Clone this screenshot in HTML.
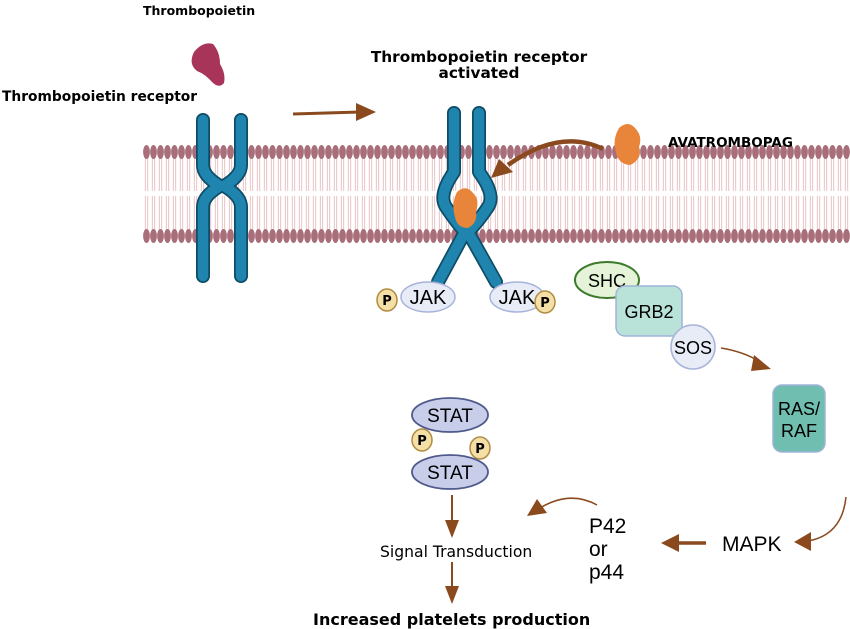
<!DOCTYPE html>
<html><head><meta charset="utf-8"><style>
html,body{margin:0;padding:0;background:#fff;width:850px;height:629px;overflow:hidden}
svg{display:block}
text{font-family:"Liberation Sans",sans-serif}
.b{font-family:"DejaVu Sans","Liberation Sans",sans-serif;font-weight:bold}
</style></head><body>
<svg width="850" height="629" viewBox="0 0 850 629" xmlns="http://www.w3.org/2000/svg">
<defs>
<pattern id="heads" width="7" height="16" patternUnits="userSpaceOnUse" x="143" y="144">
<ellipse cx="3.5" cy="8" rx="3.4" ry="7" fill="#a86e79"/>
</pattern>
<pattern id="heads2" width="7" height="16" patternUnits="userSpaceOnUse" x="143" y="228">
<ellipse cx="3.5" cy="8" rx="3.4" ry="7" fill="#a86e79"/>
</pattern>
<pattern id="tails" width="7" height="40" patternUnits="userSpaceOnUse" x="143">
<line x1="2.3" y1="0" x2="2.3" y2="40" stroke="#e4bcc1" stroke-width="0.9"/>
<line x1="4.7" y1="0" x2="4.7" y2="40" stroke="#e4bcc1" stroke-width="0.9"/>
</pattern>
</defs>

<rect x="143" y="158" width="707" height="33" fill="url(#tails)"/>
<rect x="143" y="196" width="707" height="34" fill="url(#tails)"/>
<rect x="143" y="144" width="707" height="16" fill="url(#heads)"/>
<rect x="143" y="228" width="707" height="16" fill="url(#heads2)"/>

<g fill="none" stroke-linecap="round" stroke-linejoin="round">
<path d="M203,120 L203,165 Q203,176 220,186 Q203,196 203,207 L203,276" stroke="#0f4d66" stroke-width="14"/>
<path d="M241,120 L241,165 Q241,176 224,186 Q241,196 241,207 L241,276" stroke="#0f4d66" stroke-width="14"/>
<path d="M203,120 L203,165 Q203,176 220,186 Q203,196 203,207 L203,276" stroke="#1f84ae" stroke-width="10.5"/>
<path d="M241,120 L241,165 Q241,176 224,186 Q241,196 241,207 L241,276" stroke="#1f84ae" stroke-width="10.5"/>
<path d="M454,113 L454,172 Q438,195 446,207 Q456,222 465,232 L438,282" stroke="#0f4d66" stroke-width="14"/>
<path d="M479,113 L479,172 Q496,195 488,207 Q478,222 468,232 L496,282" stroke="#0f4d66" stroke-width="14"/>
<path d="M454,113 L454,172 Q438,195 446,207 Q456,222 465,232 L438,282" stroke="#1f84ae" stroke-width="10.5"/>
<path d="M479,113 L479,172 Q496,195 488,207 Q478,222 468,232 L496,282" stroke="#1f84ae" stroke-width="10.5"/>
</g>
<path d="M457,192 Q466,184 473,193 Q480,200 476,211 Q478,223 468,228 Q457,228 455,217 Q451,204 457,192z" fill="#e8853a"/>
<path d="M619,128 Q628,120 635,128 Q643,136 639,147 Q642,160 630,165 Q618,164 616,152 Q612,140 619,128z" fill="#e8853a"/>
<path d="M194,52 Q203,41 213,44 Q220,52 220,64 Q226,74 224,83 Q219,89 212,82 Q205,74 197,71 Q188,64 194,52z" fill="#a8345a"/>

<ellipse cx="428" cy="297" rx="27" ry="15" fill="#e7ecf7" stroke="#a8b3d8" stroke-width="1.5"/>
<text x="428" y="304" font-size="20" text-anchor="middle">JAK</text>
<ellipse cx="517" cy="297" rx="27" ry="15" fill="#e7ecf7" stroke="#a8b3d8" stroke-width="1.5"/>
<text x="517" y="304" font-size="20" text-anchor="middle">JAK</text>
<ellipse cx="387" cy="300" rx="10" ry="11" fill="#f4dfa6" stroke="#b08a40" stroke-width="1.5"/>
<text x="387" y="305" font-size="13" class="b" text-anchor="middle">P</text>
<ellipse cx="545" cy="302" rx="10" ry="11" fill="#f4dfa6" stroke="#b08a40" stroke-width="1.5"/>
<text x="545" y="307" font-size="13" class="b" text-anchor="middle">P</text>

<path d="M293,114 L360,112" stroke="#8b4a1e" stroke-width="3" fill="none"/>
<path d="M356,103 L376,112 L356,121 z" fill="#8b4a1e"/>
<path d="M603,149 Q560,128 508,165" stroke="#8b4a1e" stroke-width="4.5" fill="none"/>
<path d="M491,178 L499,159 L513,172 z" fill="#8b4a1e"/>

<ellipse cx="607" cy="280" rx="32" ry="18" fill="#e5f3d8" stroke="#3b7a2a" stroke-width="2"/>
<text x="607" y="287" font-size="18" text-anchor="middle">SHC</text>
<rect x="616" y="286" width="66" height="50" rx="9" fill="#b9e3d9" stroke="#9fb3d8" stroke-width="1.5"/>
<text x="649" y="318" font-size="18" text-anchor="middle">GRB2</text>
<circle cx="693" cy="347" r="22" fill="#e7ecf7" stroke="#a8b3d8" stroke-width="1.5"/>
<text x="693" y="354" font-size="18" text-anchor="middle">SOS</text>
<path d="M721,348 Q745,352 760,362" stroke="#8b4a1e" stroke-width="1.5" fill="none"/>
<path d="M754,355 L771,369 L751,371 z" fill="#8b4a1e"/>

<rect x="773" y="385" width="52" height="67" rx="9" fill="#6fbeb0" stroke="#9fb3d8" stroke-width="1.5"/>
<text x="799" y="415" font-size="18" text-anchor="middle">RAS/</text>
<text x="799" y="437" font-size="18" text-anchor="middle">RAF</text>

<path d="M846,497 Q842,535 808,541" stroke="#8b4a1e" stroke-width="1.5" fill="none"/>
<path d="M794,542 L811,532 L811,551 z" fill="#8b4a1e"/>
<text x="722" y="551" font-size="21">MAPK</text>
<path d="M706,543 L676,543" stroke="#8b4a1e" stroke-width="3.5"/>
<path d="M661,543 L679,534 L679,552 z" fill="#8b4a1e"/>
<text x="589" y="533" font-size="21">P42</text>
<text x="589" y="556" font-size="21">or</text>
<text x="589" y="579" font-size="21">p44</text>
<path d="M597,505 Q570,490 540,508" stroke="#8b4a1e" stroke-width="1.5" fill="none"/>
<path d="M527,516 L537,499 L547,513 z" fill="#8b4a1e"/>

<ellipse cx="450" cy="415" rx="38" ry="17" fill="#c8cde9" stroke="#4f5a8c" stroke-width="1.8"/>
<text x="450" y="422" font-size="19" text-anchor="middle">STAT</text>
<ellipse cx="450" cy="472" rx="38" ry="17" fill="#c8cde9" stroke="#4f5a8c" stroke-width="1.8"/>
<text x="450" y="479" font-size="19" text-anchor="middle">STAT</text>
<ellipse cx="422" cy="440" rx="10" ry="11" fill="#f4dfa6" stroke="#b08a40" stroke-width="1.5"/>
<text x="422" y="445" font-size="13" class="b" text-anchor="middle">P</text>
<ellipse cx="480" cy="448" rx="10" ry="11" fill="#f4dfa6" stroke="#b08a40" stroke-width="1.5"/>
<text x="480" y="453" font-size="13" class="b" text-anchor="middle">P</text>

<path d="M452,495 L452,522" stroke="#8b4a1e" stroke-width="2"/>
<path d="M445,520 L452,538 L459,520 z" fill="#8b4a1e"/>
<text x="380" y="557" font-size="15.6" style="font-family:'DejaVu Sans',sans-serif">Signal Transduction</text>
<path d="M452,562 L452,588" stroke="#8b4a1e" stroke-width="2"/>
<path d="M445,586 L452,604 L459,586 z" fill="#8b4a1e"/>

<text x="143" y="15" font-size="12.5" class="b">Thrombopoietin</text>
<text x="2" y="101" font-size="13.8" class="b">Thrombopoietin receptor</text>
<text x="479" y="62" font-size="15.3" class="b" text-anchor="middle">Thrombopoietin receptor</text>
<text x="479" y="78" font-size="15.3" class="b" text-anchor="middle">activated</text>
<text x="668" y="147" font-size="13.5" class="b">AVATROMBOPAG</text>
<text x="313" y="625" font-size="16" class="b">Increased platelets production</text>
</svg>
</body></html>
